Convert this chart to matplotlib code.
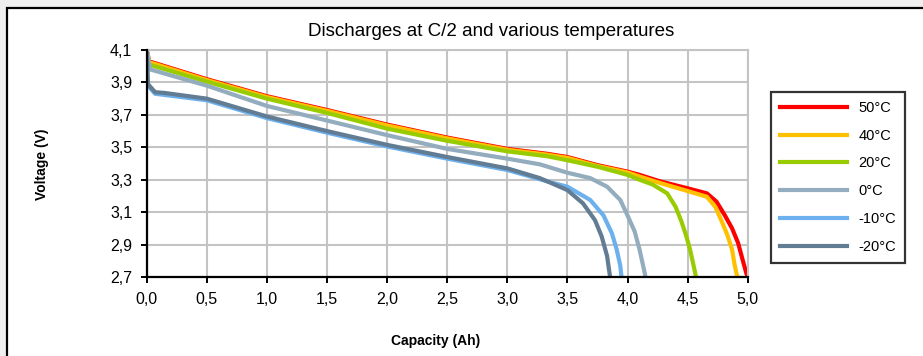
import matplotlib
matplotlib.use("Agg")
import matplotlib.pyplot as plt
from matplotlib.patches import Rectangle
from matplotlib.ticker import FuncFormatter

plt.rcParams['font.family'] = ['Liberation Sans', 'DejaVu Sans']

# capacity (Ah) / voltage (V)
q50 = [0.0, 0.02, 0.5, 1.0, 1.5, 2.0, 2.5, 3.0, 3.33, 3.5, 3.75, 4.0, 4.1, 4.27, 4.5, 4.66, 4.74, 4.81, 4.87, 4.92, 4.96, 4.99, 5.0]
v50 = [4.10, 4.03, 3.92, 3.815, 3.73, 3.64, 3.56, 3.49, 3.46, 3.44, 3.39, 3.35, 3.33, 3.29, 3.247, 3.216, 3.165, 3.08, 3.0, 2.91, 2.80, 2.72, 2.70]

q40 = [0.0, 0.02, 0.5, 1.0, 1.5, 2.0, 2.5, 3.0, 3.33, 3.5, 3.75, 4.0, 4.1, 4.27, 4.5, 4.66, 4.73, 4.78, 4.83, 4.87, 4.89, 4.91, 4.92]
v40 = [4.10, 4.025, 3.915, 3.81, 3.725, 3.635, 3.555, 3.485, 3.455, 3.435, 3.385, 3.345, 3.32, 3.28, 3.23, 3.195, 3.133, 3.05, 2.96, 2.87, 2.78, 2.71, 2.70]

q20 = [0.0, 0.02, 0.5, 1.0, 1.5, 2.0, 2.5, 3.0, 3.33, 3.5, 3.75, 4.0, 4.1, 4.21, 4.33, 4.40, 4.45, 4.49, 4.52, 4.55, 4.57]
v20 = [4.10, 4.01, 3.905, 3.80, 3.712, 3.615, 3.54, 3.475, 3.445, 3.42, 3.38, 3.33, 3.30, 3.27, 3.216, 3.133, 3.04, 2.95, 2.87, 2.77, 2.70]

q0 = [0.0, 0.03, 0.5, 1.0, 1.5, 2.0, 2.5, 3.0, 3.27, 3.5, 3.69, 3.83, 3.94, 4.0, 4.06, 4.10, 4.13, 4.15]
v0 = [4.10, 3.98, 3.88, 3.755, 3.665, 3.575, 3.49, 3.43, 3.395, 3.343, 3.31, 3.257, 3.175, 3.08, 2.98, 2.87, 2.77, 2.70]

qm10 = [0.0, 0.01, 0.07, 0.5, 1.0, 1.5, 2.0, 2.5, 3.0, 3.38, 3.5, 3.69, 3.80, 3.87, 3.91, 3.94, 3.95]
vm10 = [4.08, 3.88, 3.83, 3.79, 3.68, 3.59, 3.505, 3.43, 3.36, 3.28, 3.257, 3.175, 3.08, 2.97, 2.87, 2.77, 2.70]

qm20 = [0.0, 0.01, 0.07, 0.15, 0.5, 1.0, 1.5, 2.0, 2.5, 3.0, 3.27, 3.5, 3.63, 3.73, 3.785, 3.83, 3.855]
vm20 = [4.10, 3.89, 3.84, 3.835, 3.80, 3.69, 3.60, 3.515, 3.44, 3.37, 3.31, 3.236, 3.154, 3.05, 2.95, 2.83, 2.70]

labels = ['50°C', '40°C', '20°C', '0°C', '-10°C', '-20°C']
colors = ['#ff0000', '#ffc000', '#99cc00', '#93acbe', '#6cb0ee', '#627c93']
series = [(q50, v50), (q40, v40), (q20, v20), (q0, v0), (qm10, vm10), (qm20, vm20)]

W, H = 923, 356
fig = plt.figure(figsize=(W / 100, H / 100), dpi=100, facecolor='#efefef')

# white chart frame, cut off at right and bottom as in the reference
top = 1 - 8 / H
fig.patches.append(Rectangle((7.5 / W, -0.2), 1.2, top + 0.2,
                             transform=fig.transFigure, facecolor='white',
                             edgecolor='black', linewidth=1.6, zorder=-5))

ax = fig.add_axes([146.7 / W, 79 / H, 601 / W, 227 / H])
ax.set_facecolor('white')

lines = []
for (q, v), lab, c in zip(series, labels, colors):
    ln, = ax.plot(q, v, color=c, lw=3.0, label=lab)
    lines.append(ln)

ax.set_xlim(0, 5.0)
ax.set_ylim(2.7, 4.1)
ax.set_xticks([i * 0.5 for i in range(11)])
ax.set_yticks([2.7 + i * 0.2 for i in range(8)])
fmt = FuncFormatter(lambda x, p: f"{x:.1f}".replace('.', ','))
ax.xaxis.set_major_formatter(fmt)
ax.yaxis.set_major_formatter(fmt)
ax.grid(True, color='#c4c4c4', lw=1.5)
ax.set_axisbelow(True)
for s in ['top', 'right']:
    ax.spines[s].set_color('#c4c4c4')
    ax.spines[s].set_linewidth(1.5)
for s in ['left', 'bottom']:
    ax.spines[s].set_color('black')
    ax.spines[s].set_linewidth(1.6)
    ax.spines[s].set_zorder(5)
ax.tick_params(direction='out', length=4.5, width=1.4, pad=6, labelsize=11.5, colors='black')

fig.text(491 / W, 1 - 31 / H, 'Discharges at C/2 and various temperatures',
         ha='center', va='center', fontsize=13.5)
fig.text(42 / W, 1 - 164.5 / H, 'Voltage (V)', rotation=90, ha='center', va='center',
         fontsize=10, fontweight='bold')
fig.text(436 / W, 1 - 341 / H, 'Capacity (Ah)', ha='center', va='center',
         fontsize=10, fontweight='bold')

leg = fig.legend(handles=lines, loc='upper left', bbox_to_anchor=(771 / W, 1 - 92 / H),
                 bbox_transform=fig.transFigure, borderaxespad=0, fontsize=10.5,
                 frameon=True, fancybox=False, handlelength=4.6, handletextpad=0.8,
                 labelspacing=0.95, borderpad=0.6)
leg.get_frame().set_edgecolor('black')
leg.get_frame().set_linewidth(1.6)

fig.savefig('out.png', dpi=100, facecolor=fig.get_facecolor())
